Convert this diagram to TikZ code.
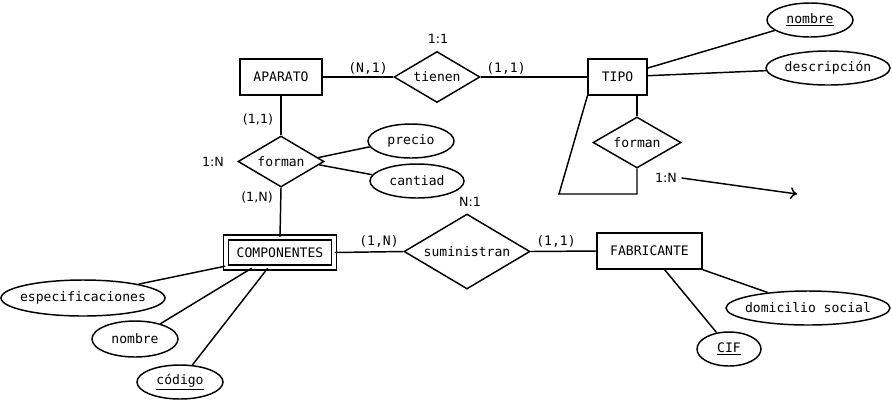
\documentclass[tikz,border=0pt]{standalone}
\usepackage{fontspec}
\setmainfont{DejaVu Sans Mono}
\newfontfamily\cardfont{DejaVu Sans}
\usetikzlibrary{shapes.geometric,arrows.meta}

\tikzset{
  ent/.style={draw, rectangle, minimum height=27pt, inner sep=0},
  rel/.style={draw, diamond, aspect=1.7, inner sep=0},
  attr/.style={draw, ellipse, inner sep=0, minimum height=25.5pt},
  card/.style={inner sep=0, font=\cardfont\fontsize{9.5}{11}\selectfont},
  cardm/.style={inner sep=0},
}

\begin{document}
\begin{tikzpicture}[x=0.75pt, y=-0.75pt, line width=1.1pt,
    font=\fontsize{9.8}{12}\selectfont]
  \useasboundingbox (0,0) rectangle (892,401);
  % ENTIDADES
  \node[ent, minimum width=61.5pt] (aparato) at (281,77) {APARATO};
  \node[ent, minimum width=44pt] (tipo) at (617.5,77) {TIPO};
  \node[ent, minimum width=79pt] (fab) at (649.5,251) {FABRICANTE};
  \node[ent, double, double distance=2.6pt, minimum width=81pt,
        minimum height=22.5pt] (comp) at (280,252.5) {COMPONENTES};
  % RELACIONES
  \node[rel, minimum width=64.5pt, minimum height=38.25pt] (tienen) at (437,77) {tienen};
  \node[rel, minimum width=64.5pt, minimum height=38.25pt] (formanA) at (281,161.5) {forman};
  \node[rel, minimum width=66pt, minimum height=38.25pt] (formanT) at (637,142.5) {forman};
  \node[rel, minimum width=94.5pt, minimum height=56.25pt] (sumi) at (467,251.5) {suministran};
  % ATRIBUTOS
  \node[attr, minimum width=64.5pt] (nombreT) at (810,20) {\underline{nombre}};
  \node[attr, minimum width=93pt, inner xsep=-1pt] (descr) at (828,68) {descripción};
  \node[attr, minimum width=64.5pt] (precio) at (411,141) {precio};
  \node[attr, minimum width=70.5pt] (cantiad) at (417,181) {cantiad};
  \node[attr, minimum width=123pt, minimum height=27pt, inner xsep=-5pt] (espec) at (83,298) {especificaciones};
  \node[attr, minimum width=64.5pt, minimum height=27pt] (nombreC) at (135,339) {nombre};
  \node[attr, minimum width=64.5pt] (codigo) at (180,382) {\underline{código}};
  \node[attr, minimum width=123pt, inner xsep=-5pt] (domic) at (808,308) {domicilio social};
  \node[attr, minimum width=48pt] (cif) at (729,349) {\underline{CIF}};
  % CARDINALIDADES
  \node[card] (cTienen) at (438,39) {1:1};
  \node[cardm] (cAparT) at (368,68) {(N,1)};
  \node[cardm] (cTipoT) at (506,68) {(1,1)};
  \node[card] (cAparF) at (258,120) {(1,1)};
  \node[card] (cFormA) at (213,162) {1:N};
  \node[card] (cCompF) at (257,198) {(1,N)};
  \node[card] (cSumi) at (470,202) {N:1};
  \node[cardm] (cCompS) at (379,241) {(1,N)};
  \node[cardm] (cFabS) at (556,241) {(1,1)};
  \node[card] (cFormT) at (666,178) {1:N};
  \coordinate (loopC) at (559,194);
  \coordinate (arrowE) at (797,194);
  % CONEXIONES
  \draw (aparato.east) -- (tienen.west);
  \draw (tienen.east) -- (tipo.west);
  \draw (tipo) -- (nombreT);
  \draw (tipo) -- (descr);
  \draw (formanT.north |- tipo.south) -- (formanT.north);
  \draw (formanT.south) |- (loopC) -- (tipo.south west);
  \draw[-{To[length=5pt,width=9pt]}] (cFormT.east) ++(3pt,0) -- (arrowE);
  \draw (aparato.south) -- (formanA.north);
  \draw (formanA.6) -- (precio.188);
  \draw (formanA.-5) -- (cantiad.172);
  \draw (formanA.south) -- (comp.north);
  \draw (comp.east) -- (sumi.west);
  \draw (sumi.east) -- (fab.west);
  \draw (comp.194) -- (espec.14);
  \draw (comp.209) -- (nombreC.31);
  \draw (comp.232) -- (codigo.54);
  \draw (fab.south east) -- (domic.159);
  \draw (fab.309) -- (cif.127);
\end{tikzpicture}
\end{document}
